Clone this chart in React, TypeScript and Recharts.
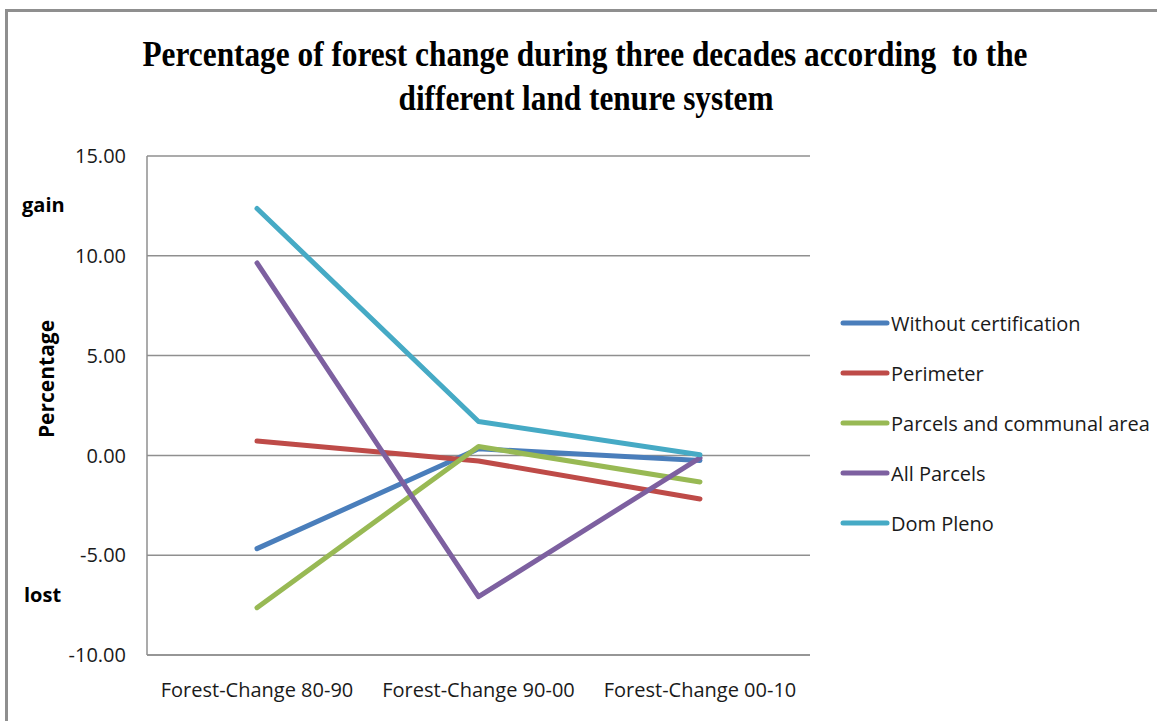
import { LineChart, Line, XAxis, YAxis, CartesianGrid, Legend } from 'recharts'

const categories = ['Forest-Change 80-90', 'Forest-Change 90-00', 'Forest-Change 00-10']
const withoutCertification = [-4.67, 0.33, -0.25]
const perimeter = [0.72, -0.28, -2.18]
const parcelsCommunal = [-7.63, 0.45, -1.33]
const allParcels = [9.64, -7.08, -0.12]
const domPleno = [12.37, 1.7, 0.03]
const yTicks = [-10, -5, 0, 5, 10, 15]

const series = [
  { key: 'Without certification', values: withoutCertification, color: '#4a7ebb' },
  { key: 'Perimeter', values: perimeter, color: '#be4b48' },
  { key: 'Parcels and communal area', values: parcelsCommunal, color: '#98b954' },
  { key: 'All Parcels', values: allParcels, color: '#7d60a0' },
  { key: 'Dom Pleno', values: domPleno, color: '#46aac5' },
]

const data = categories.map((name, i) => {
  const row: Record<string, string | number> = { name }
  series.forEach(s => { row[s.key] = s.values[i] })
  return row
})

const font = '"Open Sans", sans-serif'
const grey = '#8f8f8f'

// legend drawn in series order (recharts sorts its payload by name)
function LegendBox() {
  return (
    <div style={{ fontFamily: font, fontSize: 20, color: '#1a1a1a' }}>
      {series.map(s => (
        <div key={s.key} style={{ display: 'flex', alignItems: 'center', height: 50, whiteSpace: 'nowrap' }}>
          <svg width={51} height={8}>
            <line x1={3} y1={4} x2={47} y2={4} stroke={s.color} strokeWidth={5} strokeLinecap="round" />
          </svg>
          <span>{s.key}</span>
        </div>
      ))}
    </div>
  )
}

export default function App() {
  return (
    <div style={{ position: 'absolute', left: 0, top: 0, width: 1157, height: 721, background: '#fff', overflow: 'hidden' }}>
      <div style={{ position: 'absolute', left: 5, top: 9, width: 1200, height: 800, borderTop: `3px solid ${grey}`, borderLeft: `3px solid ${grey}` }} />
      <svg width={1157} height={721} style={{ position: 'absolute', left: 0, top: 0 }}>
        <text x={585} y={66} textAnchor="middle" fontFamily='"Liberation Serif", serif' fontWeight="bold" fontSize={35}
          textLength={885} lengthAdjust="spacingAndGlyphs" style={{ whiteSpace: 'pre' }}>
          Percentage of forest change during three decades according  to the
        </text>
        <text x={586} y={110} textAnchor="middle" fontFamily='"Liberation Serif", serif' fontWeight="bold" fontSize={35}
          textLength={375} lengthAdjust="spacingAndGlyphs">
          different land tenure system
        </text>
        <text x={22} y={212} fontFamily={font} fontWeight="bold" fontSize={20} fill="#000">gain</text>
        <text x={24} y={602} fontFamily={font} fontWeight="bold" fontSize={20} fill="#000">lost</text>
        <text x={0} y={0} transform="translate(54,379) rotate(-90)" textAnchor="middle" fontFamily={font} fontWeight="bold" fontSize={21} fill="#000">Percentage</text>
      </svg>
      <div style={{ position: 'absolute', left: 0, top: 0 }}>
        <LineChart width={1157} height={721} data={data} margin={{ top: 156, right: 347, bottom: 0, left: 0 }}>
          <CartesianGrid vertical={false} stroke={grey} strokeWidth={1.5} />
          <XAxis dataKey="name" height={66} padding={{ left: 110, right: 110 }} tickLine={false} tickSize={0} tickMargin={28}
            axisLine={{ stroke: grey, strokeWidth: 1.5 }} tick={{ fill: '#1a1a1a', fontSize: 20, fontFamily: font }} interval={0} />
          <YAxis width={147} domain={[-10, 15]} ticks={yTicks} tickFormatter={(v: number) => v.toFixed(2)} tickLine={false}
            tickSize={0} tickMargin={21} axisLine={{ stroke: grey, strokeWidth: 1.5 }}
            tick={{ fill: '#1a1a1a', fontSize: 20, fontFamily: font }} />
          <Legend layout="vertical" align="center" verticalAlign="middle" content={<LegendBox />}
            wrapperStyle={{ left: 840, top: 298, width: 317 }} />
          {series.map(s => (
            <Line key={s.key} dataKey={s.key} stroke={s.color} strokeWidth={5} strokeLinecap="round" strokeLinejoin="round"
              dot={false} activeDot={false} isAnimationActive={false} />
          ))}
        </LineChart>
      </div>
    </div>
  )
}
